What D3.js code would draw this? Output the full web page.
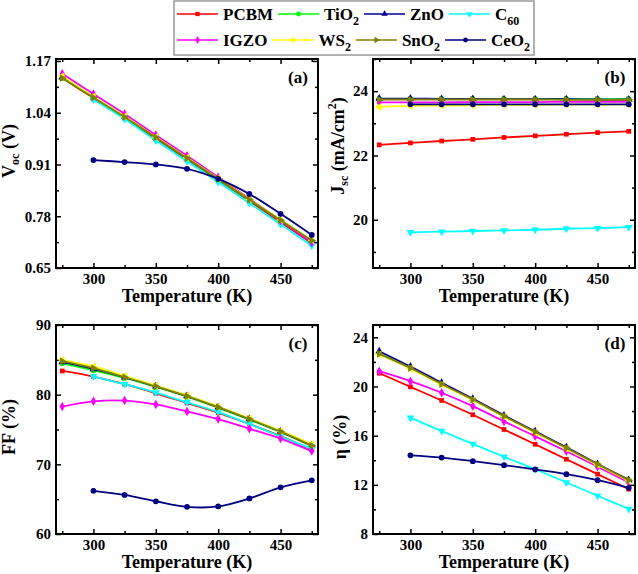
<!DOCTYPE html>
<html>
<head>
<meta charset="utf-8">
<script src="https://cdn.jsdelivr.net/npm/d3@7"></script>
<style>
  body { margin: 0; background: #fff; }
  svg { display: block; font-family: "Liberation Serif", "Times New Roman", serif; font-weight: bold; }
</style>
</head>
<body>
<svg id="chart" width="638" height="574"></svg>
<script>
// ---------- DATA ----------
const tempsAll = [275, 300, 325, 350, 375, 400, 425, 450, 475];
const tempsFrom300 = [300, 325, 350, 375, 400, 425, 450, 475];

const seriesNames = ["PCBM", "TiO2", "ZnO", "C60", "IGZO", "WS2", "SnO2", "CeO2"];
const seriesColors = ["#ff0000", "#00ff00", "#000099", "#00ffff", "#ff00ff", "#ffff00", "#808000", "#000080"];

// Voc (V), series order as seriesNames
const vocValues = [
  [1.127, 1.077, 1.028, 0.975, 0.923, 0.871, 0.818, 0.765, 0.712],
  [1.128, 1.078, 1.029, 0.977, 0.925, 0.873, 0.821, 0.769, 0.717],
  [1.129, 1.079, 1.030, 0.978, 0.926, 0.874, 0.822, 0.770, 0.718],
  [1.073, 1.024, 0.970, 0.918, 0.866, 0.813, 0.760, 0.706],
  [1.138, 1.087, 1.037, 0.984, 0.932, 0.878, 0.824, 0.769, 0.714],
  [1.132, 1.081, 1.031, 0.979, 0.927, 0.875, 0.823, 0.771, 0.720],
  [1.127, 1.078, 1.029, 0.978, 0.926, 0.874, 0.822, 0.770, 0.719],
  [0.921, 0.916, 0.910, 0.899, 0.874, 0.836, 0.786, 0.733]
];
// Jsc (mA/cm2)
const jscValues = [
  [22.33, 22.39, 22.45, 22.50, 22.56, 22.61, 22.66, 22.71, 22.75],
  [23.75, 23.75, 23.75, 23.75, 23.75, 23.75, 23.75, 23.75, 23.75],
  [23.77, 23.77, 23.76, 23.76, 23.75, 23.75, 23.75, 23.74, 23.74],
  [19.61, 19.63, 19.65, 19.67, 19.69, 19.72, 19.74, 19.77],
  [23.65, 23.65, 23.65, 23.66, 23.66, 23.66, 23.67, 23.67, 23.67],
  [23.51, 23.54, 23.55, 23.56, 23.57, 23.57, 23.58, 23.58, 23.58],
  [23.74, 23.74, 23.74, 23.74, 23.74, 23.74, 23.73, 23.73, 23.73],
  [23.59, 23.59, 23.59, 23.59, 23.59, 23.59, 23.59, 23.59]
];
// FF (%)
const ffValues = [
  [83.4, 82.6, 81.5, 80.2, 78.8, 77.4, 75.8, 74.05, 72.1],
  [84.5, 83.5, 82.4, 81.1, 79.7, 78.1, 76.4, 74.6, 72.6],
  [84.7, 83.7, 82.5, 81.2, 79.8, 78.2, 76.5, 74.7, 72.7],
  [82.6, 81.5, 80.3, 78.9, 77.5, 75.8, 74.0, 72.2],
  [78.3, 79.05, 79.15, 78.6, 77.6, 76.5, 75.1, 73.7, 71.9],
  [85.0, 84.05, 82.7, 81.3, 79.9, 78.3, 76.6, 74.8, 72.9],
  [84.8, 83.8, 82.5, 81.2, 79.8, 78.2, 76.5, 74.7, 72.7],
  [66.2, 65.6, 64.7, 63.9, 63.95, 65.1, 66.7, 67.7]
];
// eta (%)
const etaValues = [
  [21.08, 19.97, 18.86, 17.70, 16.50, 15.30, 14.08, 12.87, 11.65],
  [22.70, 21.50, 20.20, 18.95, 17.60, 16.30, 15.00, 13.67, 12.38],
  [22.87, 21.62, 20.30, 19.00, 17.65, 16.35, 15.05, 13.70, 12.40],
  [17.46, 16.38, 15.33, 14.28, 13.27, 12.19, 11.11, 10.03],
  [21.24, 20.43, 19.49, 18.40, 17.16, 15.95, 14.73, 13.47, 12.19],
  [22.60, 21.45, 20.15, 18.90, 17.55, 16.25, 14.95, 13.62, 12.33],
  [22.65, 21.50, 20.20, 18.94, 17.59, 16.30, 15.00, 13.67, 12.38],
  [14.40, 14.22, 13.92, 13.60, 13.25, 12.87, 12.38, 11.76]
];

const xMajorTicks = [300, 350, 400, 450];
const xMinorTicks = [275, 325, 375, 425, 475];
const vocMajorTicks = [0.65, 0.78, 0.91, 1.04, 1.17];
const vocMinorTicks = [0.715, 0.845, 0.975, 1.105];
const jscMajorTicks = [20, 22, 24];
const jscMinorTicks = [19, 21, 23, 25];
const ffMajorTicks = [60, 70, 80, 90];
const ffMinorTicks = [65, 75, 85];
const etaMajorTicks = [8, 12, 16, 20, 24];
const etaMinorTicks = [10, 14, 18, 22];

// ---------- LAYOUT ----------
const svg = d3.select("#chart");
const xDomain = [270, 480];
const symbolTypes = [
  {t: d3.symbolSquare, r: 0},
  {t: d3.symbolCircle, r: 0},
  {t: d3.symbolTriangle, r: 0},
  {t: d3.symbolTriangle, r: 180},
  {t: d3.symbolDiamond, r: 0},
  {t: d3.symbolTriangle, r: -90},
  {t: d3.symbolTriangle, r: 90},
  {t: d3.symbolCircle, r: 0}
];

const panels = [
  {values: vocValues, yDomain: [0.65, 1.175], major: vocMajorTicks, minor: vocMinorTicks, fmt: d3.format(".2f"),
   box: [56, 318, 59, 268], label: "(a)", ytitle: [{t: "V"}, {t: "oc", sub: true}, {t: " (V)"}], ty: [15, 151]},
  {values: jscValues, yDomain: [18.5, 25], major: jscMajorTicks, minor: jscMinorTicks, fmt: d3.format("d"),
   box: [373, 635, 59, 268], label: "(b)", ytitle: [{t: "J"}, {t: "sc", sub: true}, {t: " (mA/cm"}, {t: "2", sup: true}, {t: ")"}], ty: [344, 146]},
  {values: ffValues, yDomain: [60, 90], major: ffMajorTicks, minor: ffMinorTicks, fmt: d3.format("d"),
   box: [56, 318, 325, 534], label: "(c)", ytitle: [{t: "FF (%)"}], ty: [15, 427]},
  {values: etaValues, yDomain: [8, 25], major: etaMajorTicks, minor: etaMinorTicks, fmt: d3.format("d"),
   box: [373, 635, 325, 534], label: "(d)", ytitle: [{t: "η (%)"}], ty: [346, 437]}
];

panels.forEach(p => {
  const [x0, x1, y0, y1] = p.box;
  const x = d3.scaleLinear().domain(xDomain).range([x0, x1]);
  const y = d3.scaleLinear().domain(p.yDomain).range([y1, y0]);
  const g = svg.append("g");

  // axes: inward ticks on all four sides
  const mk = (axis, ticks, size, fmt) => axis.tickValues(ticks).tickSizeInner(-size).tickSizeOuter(0).tickPadding(fmt ? 5 : 0).tickFormat(fmt || "");
  const addAxis = (axisFn, scale, ticks, size, fmt, tr) => {
    const a = g.append("g").attr("transform", tr).call(mk(axisFn(scale), ticks, size, fmt));
    a.select(".domain").remove();
    a.selectAll("line").attr("stroke", "#000").attr("stroke-width", 1.5);
    a.selectAll("text").attr("font-size", 15).attr("font-family", "Liberation Serif").attr("font-weight", "bold").attr("fill", "#000");
    return a;
  };
  addAxis(d3.axisBottom, x, xMajorTicks, 5, d3.format("d"), `translate(0,${y1})`);
  addAxis(d3.axisBottom, x, xMinorTicks, 3, null, `translate(0,${y1})`);
  addAxis(d3.axisTop, x, xMajorTicks, 5, null, `translate(0,${y0})`);
  addAxis(d3.axisTop, x, xMinorTicks, 3, null, `translate(0,${y0})`);
  const la = addAxis(d3.axisLeft, y, p.major, 5, p.fmt, `translate(${x0},0)`);
  la.selectAll("text").attr("x", -5);
  addAxis(d3.axisLeft, y, p.minor, 3, null, `translate(${x0},0)`);
  addAxis(d3.axisRight, y, p.major, 5, null, `translate(${x1},0)`);
  addAxis(d3.axisRight, y, p.minor, 3, null, `translate(${x1},0)`);

  // series
  const sg = g.append("g");
  const line = d3.line().x(d => x(d[0])).y(d => y(d[1])).curve(d3.curveCatmullRom.alpha(0.5));
  p.values.forEach((vals, i) => {
    const xs = vals.length === tempsAll.length ? tempsAll : tempsFrom300;
    const pts = vals.map((v, k) => [xs[k], v]);
    sg.append("path").datum(pts).attr("d", line).attr("fill", "none")
      .attr("stroke", seriesColors[i]).attr("stroke-width", 1.8);
    const sym = d3.symbol().type(symbolTypes[i].t).size(i === 0 ? 22 : 26);
    sg.selectAll(null).data(pts).join("path")
      .attr("d", sym)
      .attr("transform", d => `translate(${x(d[0])},${y(d[1])}) rotate(${symbolTypes[i].r})`)
      .attr("fill", seriesColors[i]);
  });

  // frame
  g.append("rect").attr("x", x0).attr("y", y0).attr("width", x1 - x0).attr("height", y1 - y0)
    .attr("fill", "none").attr("stroke", "#000").attr("stroke-width", 2);

  // panel label
  g.append("text").attr("x", x1 - 20).attr("y", y0 + 24).attr("text-anchor", "middle")
    .attr("font-size", 17).text(p.label);

  // x title
  g.append("text").attr("x", (x0 + x1) / 2).attr("y", y1 + 34).attr("text-anchor", "middle")
    .attr("font-size", 18).text("Temperature (K)");

  // y title
  const yt = g.append("text").attr("transform", `translate(${p.ty[0]},${p.ty[1]}) rotate(-90)`)
    .attr("text-anchor", "middle").attr("font-size", 18);
  let shift = 0;
  p.ytitle.forEach(s => {
    const ts = yt.append("tspan").text(s.t);
    if (s.sub) { ts.attr("font-size", 12).attr("dy", 4); shift = 4; }
    else if (s.sup) { ts.attr("font-size", 12).attr("dy", -8); shift = -8; }
    else if (shift !== 0) { ts.attr("dy", -shift); shift = 0; }
  });
});

// ---------- LEGEND ----------
const legend = svg.append("g");
legend.append("rect").attr("x", 174).attr("y", 1).attr("width", 360).attr("height", 54)
  .attr("fill", "#fff").attr("stroke", "#999").attr("stroke-width", 1.5);
const legendRows = [[0, 1, 2, 3], [4, 5, 6, 7]];
const rowY = [14, 40];
legendRows.forEach((row, r) => {
  let cx = 177;
  row.forEach(i => {
    const name = seriesNames[i];
    legend.append("line").attr("x1", cx).attr("x2", cx + 41).attr("y1", rowY[r]).attr("y2", rowY[r])
      .attr("stroke", seriesColors[i]).attr("stroke-width", 1.5);
    legend.append("path").attr("d", d3.symbol().type(symbolTypes[i].t).size(18))
      .attr("transform", `translate(${cx + 20.5},${rowY[r]}) rotate(${symbolTypes[i].r})`)
      .attr("fill", seriesColors[i]);
    const t = legend.append("text").attr("x", cx + 46).attr("y", rowY[r] + 6).attr("font-size", 17);
    const m = name.match(/^([A-Za-z]+?)(\d+)$/);
    if (m) {
      t.append("tspan").text(m[1]);
      t.append("tspan").attr("font-size", 12).attr("dy", 5).text(m[2]);
    } else {
      t.text(name);
    }
    cx += 46 + t.node().getComputedTextLength() + 5;
  });
});
</script>
</body>
</html>
